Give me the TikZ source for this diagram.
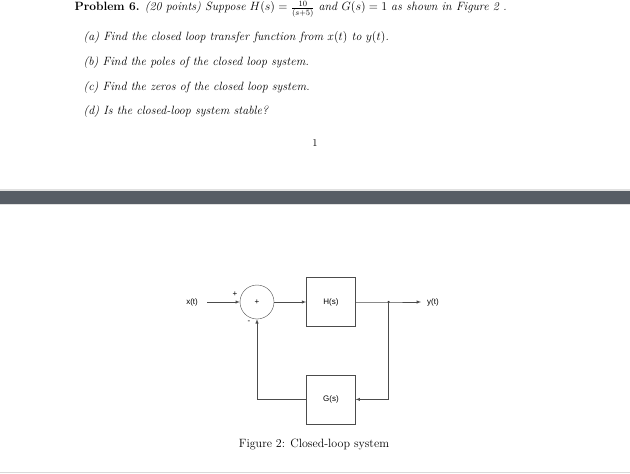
\documentclass[tikz,border=0pt]{standalone}
\usepackage{fontspec}
\newfontfamily\diagfont{Liberation Sans}
\usetikzlibrary{arrows,positioning,calc}

\definecolor{barcolor}{HTML}{575D65}

\begin{document}
\begin{tikzpicture}[x=1pt, y=-1pt,
    question/.style={anchor=west, font=\fontsize{12}{14}\selectfont\itshape},
    block/.style={rectangle, draw=black!70, minimum width=49pt, minimum height=49pt, font=\diagfont\fontsize{8}{9}\selectfont},
    sumnode/.style={circle, draw=black!70, minimum size=34pt, inner sep=0pt, font=\diagfont\fontsize{8}{9}\selectfont},
    signal/.style={font=\diagfont\fontsize{8}{9}\selectfont},
    sign/.style={font=\diagfont\fontsize{8}{9}\selectfont, inner sep=0pt},
    arrow/.style={->, >=latex, draw=black!70, line width=0.5pt}
]
\useasboundingbox (0,0) rectangle (630,474);

% Problem text
\node[anchor=west, font=\fontsize{12}{14}\selectfont] (prob) at (71,9)
    {\textbf{Problem 6.} \textit{(20 points) Suppose} $H(s)=\frac{10}{(s+5)}$ \textit{and} $G(s)=1$ \textit{as shown in Figure 2 .}};
\node[question] (qa) at (80,38) {(a) Find the closed loop transfer function from $x(t)$ to $y(t)$.};
\node[question] (qb) at (80,63) {(b) Find the poles of the closed loop system.};
\node[question] (qc) at (80,88) {(c) Find the zeros of the closed loop system.};
\node[question] (qd) at (80,112) {(d) Is the closed-loop system stable?};
\node[font=\fontsize{10.5}{12}\selectfont] (pnum) at (315,143) {1};

% Page break
\fill[black!12] (0,189) rectangle (630,205);
\fill[barcolor] (0,190.5) rectangle (630,203.5);
\draw[black!15] (0,472) -- (630,472);

% Blocks
\node[sumnode] (sum) at (257,302) {+};
\node[block, right=32pt of sum] (H) {H(s)};
\node[block, below=48pt of H] (G) {G(s)};
\node[signal, anchor=east, inner xsep=9pt] (x) at (207,302) {x(t)};
\node[signal, anchor=west, inner xsep=6pt] (y) at (421,302) {y(t)};
\coordinate[right=33pt of H.east] (split);
\fill[black!80] (split) circle (1.2pt);

% Signs
\node[sign] (plus) at (235,294) {+};
\node[sign] (minus) at (249,322) {-};

% Arrows
\draw[arrow] (x) -- (sum);
\draw[arrow] (sum) -- (H);
\draw[arrow] (H) -- (split) -- (y);
\draw[arrow] (split) |- (G);
\draw[arrow] (G) -| (sum);

% Caption
\node[font=\fontsize{12}{14}\selectfont] (caption) at (314,445) {Figure 2: Closed-loop system};

\end{tikzpicture}
\end{document}
